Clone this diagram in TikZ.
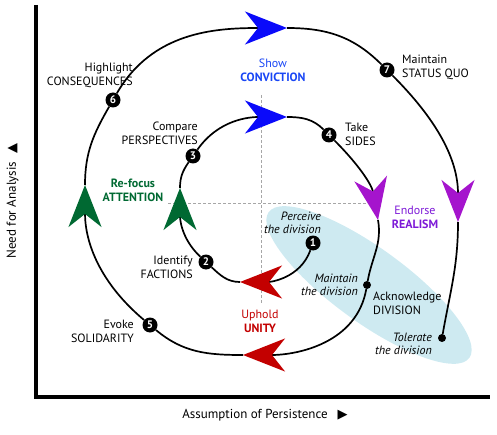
\documentclass[tikz,border=0pt]{standalone}
\usepackage{fontspec}
\setmainfont{PT Sans}
\newfontfamily\symfont{DejaVu Sans}
\usepackage{xcolor}
\usepackage{tikz}
\usetikzlibrary{arrows.meta}

\definecolor{convblue}{RGB}{10,10,250}
\definecolor{convtext}{RGB}{25,70,245}
\definecolor{attgreen}{RGB}{0,105,50}
\definecolor{realpurple}{RGB}{165,20,205}
\definecolor{realtext}{RGB}{125,25,215}
\definecolor{unityred}{RGB}{195,0,0}
\definecolor{divzone}{RGB}{206,234,241}

\begin{document}
\begin{tikzpicture}[
      x=1pt, y=1pt,
      font=\fontsize{12}{14}\selectfont,
      lbl/.style={align=center, inner sep=0pt},
      lblr/.style={align=right, anchor=east, inner sep=0pt},
      lbll/.style={align=left, anchor=west, inner sep=0pt},
      divtext/.style={lblr, font=\fontsize{12}{13}\selectfont\itshape},
      num/.style={circle, fill=black, text=white, font=\fontsize{11}{11}\selectfont\bfseries, inner sep=0pt, minimum size=15pt},
      stopdot/.style={circle, fill=black, inner sep=0pt, minimum size=8pt},
      spiral/.style={line width=1.7pt},
      head/.style={-{Stealth[length=42pt, width=33pt, inset=13pt, color=#1]}},
      guide/.style={gray!70, line width=0.6pt, dash pattern=on 3pt off 2pt},
      axisline/.style={line width=3.5pt}
  ]
  \useasboundingbox (0,0) rectangle (497,434);
  % Zone and guides
  \fill[divzone] (369,149) ellipse [x radius=124pt, y radius=37pt, rotate=-36];
  \coordinate (vtop) at (261,339);
  \coordinate (vbot) at (261,131);
  \coordinate (hleft) at (168,231);
  \coordinate (hright) at (382,231);
  \draw[guide] (vtop) -- (vbot);
  \draw[guide] (hleft) -- (hright);
  % Axes
  \coordinate (ytop) at (36,429);
  \coordinate (origin) at (36,37);
  \coordinate (xend) at (490,37);
  \draw[axisline] (ytop) -- (origin) -- (xend);
  \node[rotate=90, font=\fontsize{13}{13}\selectfont] (needlbl) at (12.5,233) {Need for Analysis\hspace{8pt}{\symfont ▲}};
  \node[font=\fontsize{13}{13}\selectfont] (persistlbl) at (265,19) {Assumption of Persistence\hspace{10pt}{\symfont ▶}};
  % Steps
  \node[num] (s1) at (313,191) {1};
  \node[num] (s2) at (206,172) {2};
  \node[num] (s3) at (193,278) {3};
  \node[num] (s4) at (329,299) {4};
  \node[num] (s5) at (150,109) {5};
  \node[num] (s6) at (113,334) {6};
  \node[num] (s7) at (387,364) {7};
  \node[stopdot] (dmaint) at (367,149) {};
  \node[stopdot] (dtol) at (442,96) {};
  % Arrow tips
  \coordinate (ra) at (240,152);
  \coordinate (ga) at (180,246);
  \coordinate (ba) at (287,317);
  \coordinate (pa) at (378,214);
  \coordinate (rb) at (243,79);
  \coordinate (gb) at (85,249);
  \coordinate (bb) at (287,406);
  \coordinate (pb) at (458,212);
  % Labels
  \node[lblr] (conseq) at (133,359) {Highlight\\CONSEQUENCES};
  \node[lbl, text=convtext] (convict) at (273,364) {Show\\\textbf{CONVICTION}};
  \node[lbll] (statusquo) at (402,367) {Maintain\\STATUS QUO};
  \node[lblr] (compare) at (198,301) {Compare\\PERSPECTIVES};
  \node[lbll] (sides) at (345,300) {Take\\SIDES};
  \node[lbl, text=attgreen, font=\fontsize{12}{14}\selectfont\bfseries] (refocus) at (133,244) {Re-focus\\ATTENTION};
  \node[lbl, text=realtext] (endorse) at (415,217) {Endorse\\\textbf{REALISM}};
  \node[divtext] (perceive) at (321,211) {Perceive\\the division};
  \node[lblr] (identify) at (193,167) {Identify\\FACTIONS};
  \node[lbl, text=unityred] (uphold) at (260,113) {Uphold\\\textbf{UNITY}};
  \node[divtext] (maintain) at (358,149) {Maintain\\the division};
  \node[lbll] (acknow) at (373,131) {Acknowledge\\DIVISION};
  \node[lblr] (evoke) at (134,103) {Evoke\\SOLIDARITY};
  \node[divtext] (tolerate) at (432,90) {Tolerate\\the division};
  % Spiral
  \draw[spiral, head=unityred] (s1) to[out=-110, in=0] (ra);
  \draw[spiral] (ra) to[out=180, in=-43] (s2);
  \draw[spiral, head=attgreen] (s2) to[out=137, in=-90] (ga);
  \draw[spiral] (ga) to[out=90, in=-125] (s3);
  \draw[spiral, head=convblue] (s3) to[out=55, in=180] (ba);
  \draw[spiral] (ba) to[out=0, in=135] (s4);
  \draw[spiral, head=realpurple] (s4) to[out=-45, in=100] (pa);
  \draw[spiral] (pa) to[out=-80, in=80] (dmaint);
  \draw[spiral, head=unityred] (dmaint) to[out=-100, in=0] (rb);
  \draw[spiral] (rb) to[out=180, in=-40] (s5);
  \draw[spiral, head=attgreen] (s5) to[out=140, in=-90] (gb);
  \draw[spiral] (gb) to[out=90, in=-120] (s6);
  \draw[spiral, head=convblue] (s6) to[out=60, in=180] (bb);
  \draw[spiral] (bb) to[out=0, in=135] (s7);
  \draw[spiral, head=realpurple] (s7) to[out=-45, in=90] (pb);
  \draw[spiral] (pb) to[out=-90, in=80] (dtol);
\end{tikzpicture}
\end{document}
